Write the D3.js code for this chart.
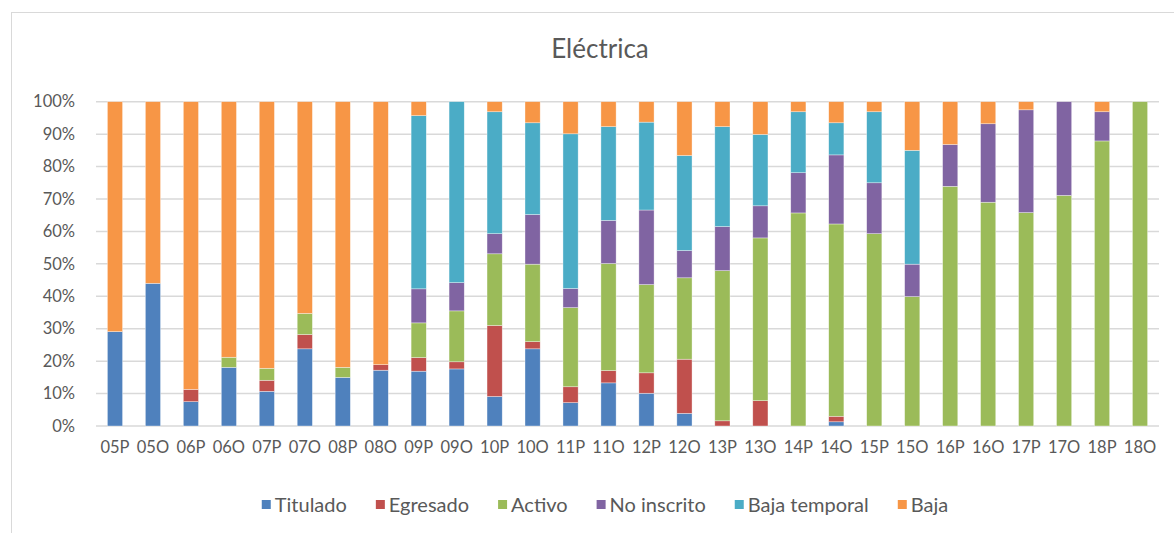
<!DOCTYPE html>
<html>
<head>
<meta charset="utf-8">
<script src="https://cdn.jsdelivr.net/npm/d3@7.9.0/dist/d3.min.js"></script>
<style>
  body { margin: 0; background: #fff; }
  svg { display: block; font-family: Lato, "Liberation Sans", sans-serif; }
</style>
</head>
<body>
<svg id="chart" width="1174" height="533"></svg>
<script>
const categories = ['05P','05O','06P','06O','07P','07O','08P','08O','09P','09O','10P','10O','11P','11O',
  '12P','12O','13P','13O','14P','14O','15P','15O','16P','16O','17P','17O','18P','18O'];

const titulado     = [29.1, 44.0, 7.5, 18.1, 10.7, 23.8, 15.0, 17.2, 16.9, 17.6, 9.1, 23.8, 7.2, 13.3, 10.1, 3.9, 0, 0, 0, 1.3, 0, 0, 0, 0, 0, 0, 0, 0];
const egresado     = [0, 0, 3.8, 0, 3.4, 4.4, 0, 1.7, 4.2, 2.2, 21.9, 2.2, 4.9, 3.8, 6.3, 16.7, 1.6, 7.8, 0, 1.7, 0, 0, 0, 0, 0, 0, 0, 0];
const activo       = [0, 0, 0, 3.1, 3.7, 6.5, 3.1, 0, 10.7, 15.7, 22.1, 23.9, 24.4, 33.0, 27.2, 25.1, 46.3, 50.2, 65.7, 59.3, 59.3, 39.9, 73.9, 69.0, 65.8, 71.1, 87.9, 100];
const noInscrito   = [0, 0, 0, 0, 0, 0, 0, 0, 10.5, 8.7, 6.2, 15.3, 5.9, 13.3, 23.0, 8.4, 13.6, 9.9, 12.4, 21.3, 15.7, 10.0, 12.9, 24.2, 31.7, 28.9, 9.0, 0];
const bajaTemporal = [0, 0, 0, 0, 0, 0, 0, 0, 53.4, 55.8, 37.6, 28.3, 47.7, 28.9, 27.1, 29.3, 30.8, 22.0, 18.8, 9.9, 21.9, 35.1, 0, 0, 0, 0, 0, 0];
const baja         = [70.9, 56.0, 88.7, 78.8, 82.2, 65.3, 81.9, 81.1, 4.3, 0, 3.1, 6.5, 9.9, 7.7, 6.3, 16.6, 7.7, 10.1, 3.1, 6.5, 3.1, 15.0, 13.2, 6.8, 2.5, 0, 3.1, 0];

const seriesNames = ['Titulado', 'Egresado', 'Activo', 'No inscrito', 'Baja temporal', 'Baja'];
const seriesValues = [titulado, egresado, activo, noInscrito, bajaTemporal, baja];
const colors = ['#4F81BD', '#C0504D', '#9BBB59', '#8064A2', '#4BACC6', '#F79646'];
const yTicks = [0, 0.1, 0.2, 0.3, 0.4, 0.5, 0.6, 0.7, 0.8, 0.9, 1];

// table for d3.stack
const rows = categories.map((c, i) => {
  const r = { cat: c };
  seriesNames.forEach((s, j) => { r[s] = seriesValues[j][i]; });
  return r;
});

const stacked = d3.stack().keys(seriesNames).offset(d3.stackOffsetExpand)(rows);

const svg = d3.select('#chart');
const textColor = '#595959';

// chart frame
svg.append('rect')
  .attr('x', 11.5).attr('y', 12.5)
  .attr('width', 1200).attr('height', 600)
  .attr('fill', 'none').attr('stroke', '#d9d9d9');

const plotLeft = 96, plotRight = 1159, plotTop = 101.7, plotBottom = 426;

const x = d3.scaleBand().domain(categories).range([plotLeft, plotRight]).paddingInner(0.6).paddingOuter(0.3);
const y = d3.scaleLinear().domain([0, 1]).range([plotBottom, plotTop]);

// gridlines
svg.append('g')
  .selectAll('line')
  .data(yTicks)
  .join('line')
  .attr('x1', plotLeft).attr('x2', plotRight)
  .attr('y1', d => y(d)).attr('y2', d => y(d))
  .attr('stroke', '#d9d9d9').attr('stroke-width', 1.5);

// bars
svg.append('g')
  .selectAll('g')
  .data(stacked)
  .join('g')
  .attr('fill', (d, i) => colors[i])
  .selectAll('rect')
  .data(d => d)
  .join('rect')
  .attr('x', d => x(d.data.cat))
  .attr('width', x.bandwidth())
  .attr('y', d => y(d[1]))
  .attr('height', d => y(d[0]) - y(d[1]))
  .attr('stroke', '#fff').attr('stroke-width', 0.6).attr('stroke-opacity', 0.6);

// y axis labels
const yAxis = d3.axisLeft(y).tickValues(yTicks).tickFormat(d3.format('.0%')).tickSize(0).tickPadding(0);
svg.append('g')
  .attr('transform', `translate(75,0)`)
  .call(yAxis)
  .call(g => g.select('.domain').remove())
  .selectAll('text')
  .attr('fill', textColor)
  .style('font-size', '16.5px')
  .style('font-family', 'Lato, "Liberation Sans", sans-serif');

// x axis labels
const xAxis = d3.axisBottom(x).tickSize(0).tickPadding(0);
svg.append('g')
  .attr('transform', `translate(0,441)`)
  .call(xAxis)
  .call(g => g.select('.domain').remove())
  .selectAll('text')
  .attr('fill', textColor)
  .style('font-size', '16.5px')
  .style('font-family', 'Lato, "Liberation Sans", sans-serif');

// title
svg.append('text')
  .attr('x', 600).attr('y', 58)
  .attr('text-anchor', 'middle')
  .attr('fill', textColor)
  .style('font-size', '26px')
  .text('Eléctrica');

// legend
const legend = svg.append('g').attr('transform', 'translate(0,505)');
const items = legend.selectAll('g')
  .data(seriesNames)
  .join('g');
items.append('rect')
  .attr('width', 9).attr('height', 9)
  .attr('y', -5)
  .attr('fill', (d, i) => colors[i]);
items.append('text')
  .attr('x', 13).attr('y', 7)
  .attr('fill', textColor)
  .style('font-size', '20px')
  .text(d => d);

const gap = 29;
let cursor = 0;
const positions = [];
items.each(function () {
  const w = d3.select(this).select('text').node().getComputedTextLength();
  positions.push(cursor);
  cursor += 13 + w + gap;
});
const totalW = cursor - gap;
const startX = 605 - totalW / 2;
items.attr('transform', (d, i) => `translate(${startX + positions[i]},0)`);
</script>
</body>
</html>
